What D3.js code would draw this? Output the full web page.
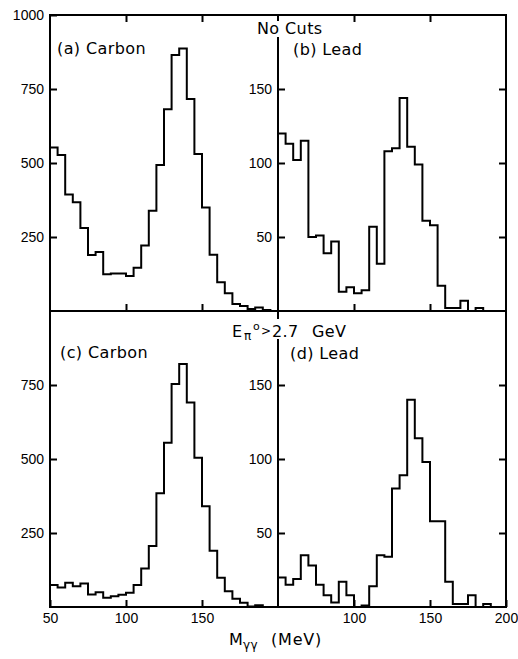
<!DOCTYPE html>
<html lang="en">
<head>
    <meta charset="UTF-8">
    <title>M gamma gamma spectra</title>
    <script src="https://d3js.org/d3.v7.min.js"></script>
    <style>
        body { margin: 0; background: #fff; }
        svg { font-family: "DejaVu Sans", sans-serif; }
        .axis text { font-size: 14px; fill: #000; }
        .axis line { stroke: #000; stroke-width: 2; }
        .frame { fill: none; stroke: #000; stroke-width: 2; }
        .hist { fill: none; stroke: #000; stroke-width: 2; stroke-linejoin: miter; }
        .label { font-size: 16px; letter-spacing: 0.4px; }
    </style>
</head>
<body>
<div id="chart"></div>
<script>
    // lower edges of the 5 MeV bins (MeV)
    const binLow = [50, 55, 60, 65, 70, 75, 80, 85, 90, 95,
                    100, 105, 110, 115, 120, 125, 130, 135, 140, 145,
                    150, 155, 160, 165, 170, 175, 180, 185, 190, 195];
    const massRange = [50, 200];

    // counts per bin
    const carbonNoCuts = [552, 527, 394, 367, 280, 189, 199, 124, 127, 127,
                          118, 146, 221, 339, 493, 682, 865, 887, 716, 530,
                          350, 190, 97, 60, 24, 17, 7, 12, 3, 0];
    const leadNoCuts = [120, 113, 102, 115, 50, 51, 39, 47, 13, 16,
                        12, 14, 57, 32, 108, 110, 144, 111, 99, 61,
                        58, 17, 2, 2, 7, 0, 2, 0, 0, 0];
    const carbonCut = [74, 66, 82, 70, 79, 42, 50, 31, 36, 41,
                       48, 74, 130, 206, 384, 555, 753, 821, 691, 504,
                       340, 190, 99, 53, 28, 14, 2, 6, 0, 0];
    const leadCut = [20, 15, 19, 35, 28, 15, 8, 3, 17, 8,
                     0, 1, 14, 35, 34, 80, 89, 140, 114, 98,
                     58, 58, 17, 2, 2, 8, 0, 2, 0, 0];

    // tick values
    const carbonTicksTop = [250, 500, 750, 1000];
    const carbonTicks = [250, 500, 750];
    const leadTicks = [50, 100, 150];
    const edgeTicks = [100, 150];
    const bottomLabelsLeft = [50, 100, 150];
    const bottomLabelsRight = [100, 150, 200];

    const W = 518, H = 659;
    const leftX = 50, midX = 278, rightX = 506;
    const topY = 15, midY = 311, bottomY = 607;
    const fmt = d3.format("d");

    const svg = d3.select("#chart").append("svg")
        .attr("width", W).attr("height", H);

    const panels = [
        { counts: carbonNoCuts, x0: leftX, x1: midX, y0: topY, y1: midY, yMax: 1000,
          ticks: carbonTicksTop, rightTicks: false, bottomLabels: null, title: "(a) Carbon", tx: 57, ty: 54 },
        { counts: leadNoCuts, x0: midX, x1: rightX, y0: topY, y1: midY, yMax: 200,
          ticks: leadTicks, rightTicks: true, bottomLabels: null, title: "(b) Lead", tx: 293, ty: 55 },
        { counts: carbonCut, x0: leftX, x1: midX, y0: midY, y1: bottomY, yMax: 1000,
          ticks: carbonTicks, rightTicks: false, bottomLabels: bottomLabelsLeft, title: "(c) Carbon", tx: 60, ty: 358 },
        { counts: leadCut, x0: midX, x1: rightX, y0: midY, y1: bottomY, yMax: 200,
          ticks: leadTicks, rightTicks: true, bottomLabels: bottomLabelsRight, title: "(d) Lead", tx: 290, ty: 359 }
    ];

    panels.forEach(p => {
        const x = d3.scaleLinear().domain(massRange).range([p.x0, p.x1]);
        const y = d3.scaleLinear().domain([0, p.yMax]).range([p.y1, p.y0]);

        // histogram outline
        const pts = [[binLow[0], 0]];
        binLow.forEach((b, i) => pts.push([b, p.counts[i]]));
        pts.push([massRange[1], p.counts[p.counts.length - 1]]);
        pts.push([massRange[1], 0]);

        const line = d3.line()
            .x(d => x(d[0]))
            .y(d => y(d[1]))
            .curve(d3.curveStepAfter);

        svg.append("path")
            .attr("class", "hist")
            .attr("d", line(pts));

        // left axis, ticks pointing inwards
        svg.append("g")
            .attr("class", "axis")
            .attr("transform", `translate(${p.x0},0)`)
            .call(d3.axisLeft(y).tickValues(p.ticks).tickFormat(fmt)
                .tickSizeInner(-7).tickSizeOuter(0).tickPadding(6))
            .call(g => g.select(".domain").remove());

        if (p.rightTicks) {
            svg.append("g")
                .attr("class", "axis")
                .attr("transform", `translate(${p.x1},0)`)
                .call(d3.axisRight(y).tickValues(p.ticks).tickSizeInner(-7).tickSizeOuter(0).tickFormat(""))
                .call(g => g.select(".domain").remove());
        }

        // top row has ticks on both horizontal edges
        if (p.y0 === topY) {
            svg.append("g")
                .attr("class", "axis")
                .attr("transform", `translate(0,${p.y0})`)
                .call(d3.axisTop(x).tickValues(edgeTicks).tickSizeInner(-7).tickSizeOuter(0).tickFormat(""))
                .call(g => g.select(".domain").remove());
            svg.append("g")
                .attr("class", "axis")
                .attr("transform", `translate(0,${p.y1})`)
                .call(d3.axisBottom(x).tickValues(edgeTicks).tickSizeInner(-7).tickSizeOuter(0).tickFormat(""))
                .call(g => g.select(".domain").remove());
        }

        if (p.bottomLabels) {
            svg.append("g")
                .attr("class", "axis")
                .attr("transform", `translate(0,${p.y1})`)
                .call(d3.axisBottom(x).tickValues(p.bottomLabels).tickFormat(fmt)
                    .tickSizeInner(-7).tickSizeOuter(0).tickPadding(6))
                .call(g => g.select(".domain").remove());
        }

        svg.append("text")
            .attr("class", "label")
            .attr("x", p.tx).attr("y", p.ty)
            .text(p.title);
    });

    // frame
    svg.append("rect").attr("class", "frame")
        .attr("x", leftX).attr("y", topY)
        .attr("width", rightX - leftX).attr("height", bottomY - topY);
    svg.append("line").attr("class", "frame")
        .attr("x1", leftX).attr("x2", rightX).attr("y1", midY).attr("y2", midY);
    svg.append("line").attr("class", "frame")
        .attr("x1", midX).attr("x2", midX).attr("y1", topY).attr("y2", bottomY);

    // headings cut through the middle line
    svg.append("rect").attr("fill", "#fff")
        .attr("x", 256).attr("y", 21).attr("width", 68).attr("height", 16);
    svg.append("text").attr("class", "label")
        .attr("x", 257).attr("y", 34)
        .text("No Cuts");

    svg.append("rect").attr("fill", "#fff")
        .attr("x", 230).attr("y", 319).attr("width", 122).attr("height", 20);
    const cut = svg.append("text").attr("class", "label");
    cut.append("tspan").attr("x", 232).attr("y", 337).text("E");
    cut.append("tspan").attr("x", 244).attr("y", 340).attr("font-size", 12).text("π");
    cut.append("tspan").attr("x", 253).attr("y", 330).attr("font-size", 11).text("o");
    cut.append("tspan").attr("x", 261).attr("y", 335).attr("font-size", 12).text(">");
    cut.append("tspan").attr("x", 272).attr("y", 337).text("2.7");
    cut.append("tspan").attr("x", 312).attr("y", 337).text("GeV");

    // x axis title
    const title = svg.append("text").attr("class", "label");
    title.append("tspan").attr("x", 229).attr("y", 645).text("M");
    title.append("tspan").attr("x", 243).attr("y", 649).attr("font-size", 12).text("γγ");
    title.append("tspan").attr("x", 271).attr("y", 645).style("letter-spacing", "0.8px").text("(MeV)");
</script>
</body>
</html>
